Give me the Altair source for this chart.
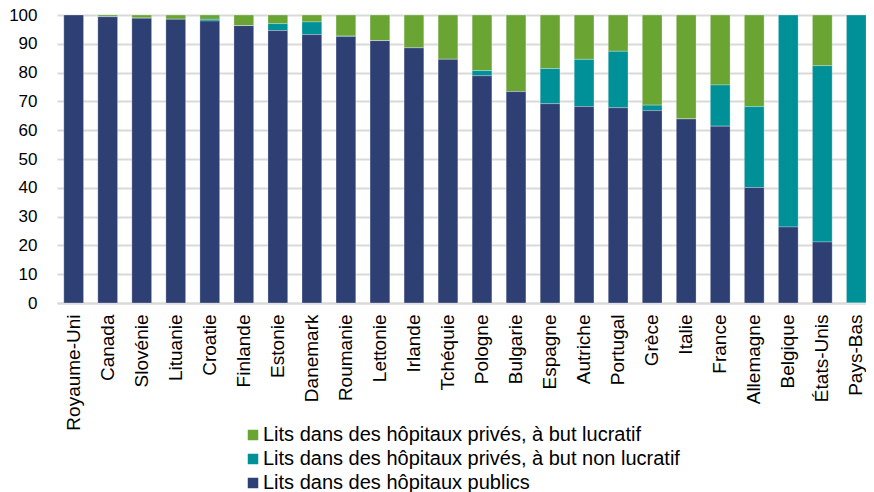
import altair as alt
import pandas as pd

countries = ["Royaume-Uni", "Canada", "Slovénie", "Lituanie", "Croatie", "Finlande",
             "Estonie", "Danemark", "Roumanie", "Lettonie", "Irlande", "Tchéquie",
             "Pologne", "Bulgarie", "Espagne", "Autriche", "Portugal", "Grèce",
             "Italie", "France", "Allemagne", "Belgique", "États-Unis", "Pays-Bas"]

public = [100, 99.4, 98.9, 98.5, 97.9, 96.3, 94.6, 93.2, 92.5, 91.1, 88.6, 84.6,
          78.9, 73.4, 69.2, 68.2, 67.8, 66.8, 63.9, 61.4, 40.1, 26.4, 21.2, 0]
nonprofit = [0, 0, 0, 0, 0.6, 0, 2.4, 4.4, 0.2, 0, 0, 0,
             1.8, 0, 12.2, 16.4, 19.6, 1.9, 0, 14.3, 28.1, 73.6, 61.2, 100]
forprofit = [0, 0.6, 1.1, 1.5, 1.5, 3.7, 3.0, 2.4, 7.3, 8.9, 11.4, 15.4,
             19.3, 26.6, 18.6, 15.4, 12.6, 31.3, 36.1, 24.3, 31.8, 0, 17.6, 0]

series = ["Lits dans des hôpitaux privés, à but lucratif",
          "Lits dans des hôpitaux privés, à but non lucratif",
          "Lits dans des hôpitaux publics"]
colors = ["#6aa534", "#009097", "#2e3f74"]
stack_order = [3, 2, 1]

rows = []
for i, c in enumerate(countries):
    for s, vals, o in zip(series, [forprofit, nonprofit, public], stack_order):
        rows.append({"pays": c, "serie": s, "valeur": vals[i], "ordre": o})
df = pd.DataFrame(rows)

font = "Liberation Sans"

chart = alt.Chart(df).mark_bar(stroke="white", strokeWidth=0.6, strokeOpacity=0.45).encode(
    x=alt.X("pays:N", sort=countries, title=None,
            scale=alt.Scale(paddingInner=0.42, paddingOuter=0.2),
            axis=alt.Axis(labelAngle=-90, labelFontSize=19, labelFont=font,
                          labelColor="#000000", labelPadding=11, ticks=False,
                          domainColor="#d9d9d9", domainWidth=2, labelLimit=200)),
    y=alt.Y("valeur:Q", stack="zero", title=None,
            scale=alt.Scale(domain=[0, 100], nice=False),
            axis=alt.Axis(values=list(range(0, 101, 10)), labelFontSize=17, labelFont=font,
                          labelColor="#000000", labelPadding=20, ticks=False, domain=False,
                          gridColor="#d9d9d9", gridWidth=2)),
    color=alt.Color("serie:N", sort=series,
                    scale=alt.Scale(domain=series, range=colors),
                    legend=alt.Legend(title=None, orient="none", legendX=186, legendY=410,
                                      symbolType="square", symbolSize=110,
                                      symbolStrokeWidth=0, labelFontSize=20, labelFont=font,
                                      labelColor="#000000", rowPadding=4, labelOffset=0,
                                      padding=0, labelLimit=600)),
    order=alt.Order("ordre:Q", sort="ascending"),
).properties(
    width=816, height=288,
    autosize=alt.AutoSizeParams(type="none"),
    padding={"left": 49, "top": 7, "right": -7, "bottom": 189},
).configure_view(stroke=None)

chart.save("out.html", embed_options={"renderer": "svg", "actions": False})
